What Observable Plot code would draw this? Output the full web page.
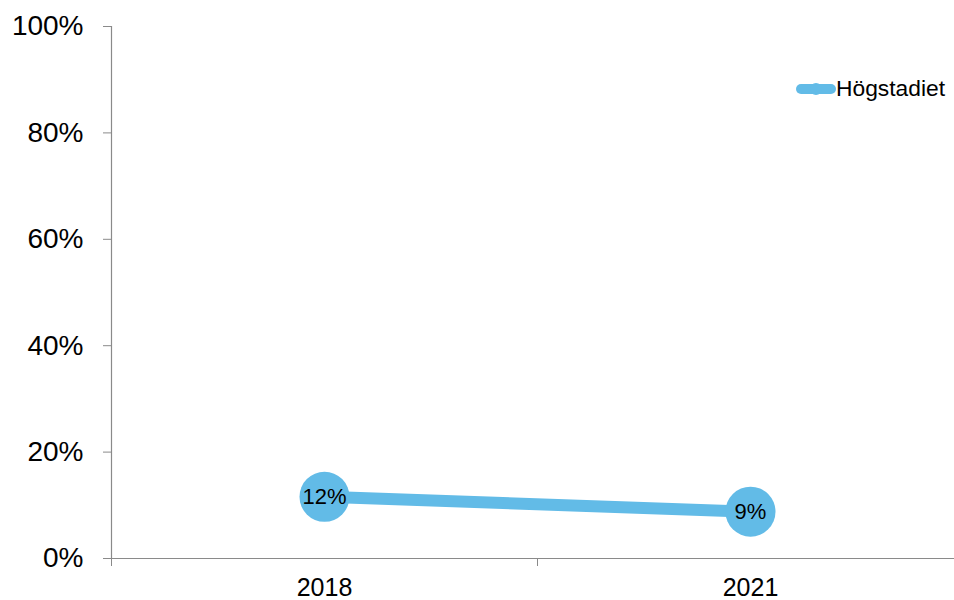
<!DOCTYPE html>
<html>
<head>
<meta charset="utf-8">
<script src="https://cdn.jsdelivr.net/npm/d3@7"></script>
<script src="https://cdn.jsdelivr.net/npm/@observablehq/plot@0.6"></script>
<style>
  html, body { margin: 0; padding: 0; background: #fff; }
  #wrap { position: relative; width: 954px; height: 600px; font-family: "Liberation Sans", Arial, sans-serif; }
  #legend { position: absolute; left: 796px; top: 75px; display: flex; align-items: center; font-size: 22.8px; color: #000; }
  #legend svg { display: block; margin-right: 0px; }
</style>
</head>
<body>
<div id="wrap">
  <div id="chart"></div>
  <div id="legend"></div>
</div>
<script>
const years = [2018, 2021];
const values = [11.6, 8.8];
const labels = ["12%", "9%"];
const seriesName = "Högstadiet";
const yTicks = [0, 20, 40, 60, 80, 100];

const color = "#62BBE7";
const axisColor = "#8a8a8a";
const data = years.map((y, i) => ({year: y, value: values[i], label: labels[i]}));
const halfStep = (years[1] - years[0]) / 2;
const bandEdges = years.map(y => y - halfStep);
const xDomain = [years[0] - halfStep, years[years.length - 1] + halfStep];

const chart = Plot.plot({
  width: 954,
  height: 600,
  marginLeft: 111,
  marginRight: 0,
  marginTop: 26,
  marginBottom: 42,
  style: {fontFamily: "'Liberation Sans', Arial, sans-serif", color: "#000", background: "#fff"},
  x: {domain: xDomain, range: [111, 963]},
  y: {domain: [0, 100]},
  marks: [
    Plot.ruleY([0], {stroke: axisColor, strokeWidth: 1.2}),
    Plot.ruleX([xDomain[0]], {stroke: axisColor, strokeWidth: 1.2}),
    Plot.axisY(yTicks, {tickSize: 8, tickPadding: 20, tickFormat: d => d + "%", fontSize: 28, stroke: axisColor, strokeOpacity: 1, fill: "#000", label: null}),
    Plot.axisX(bandEdges, {tickSize: 8, tickFormat: () => "", stroke: axisColor, strokeOpacity: 1, label: null}),
    Plot.axisX(years, {tickSize: 0, tickPadding: 20, tickFormat: d => String(d), fontSize: 25, fill: "#000", label: null}),
    Plot.line(data, {x: "year", y: "value", stroke: color, strokeWidth: 12}),
    Plot.dot(data, {x: "year", y: "value", r: 25, fill: color, stroke: null}),
    Plot.text(data, {x: "year", y: "value", text: "label", fontSize: 22, fill: "#000"})
  ]
});
document.getElementById("chart").appendChild(chart);

const legend = document.getElementById("legend");
legend.innerHTML = `<svg width="40" height="14"><line x1="5" y1="7" x2="35" y2="7" stroke="${color}" stroke-width="10" stroke-linecap="round"/><circle cx="20" cy="7" r="6" fill="${color}"/></svg><span>${seriesName}</span>`;
</script>
</body>
</html>
